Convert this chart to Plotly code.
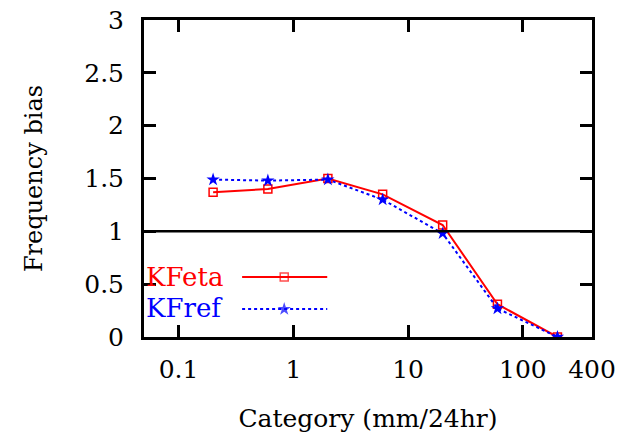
import numpy as np
import plotly.graph_objects as go

category = [0.2, 0.6, 2, 6, 20, 60, 200]
kfeta = [1.37, 1.40, 1.50, 1.35, 1.06, 0.31, 0.0]
kfref = [1.49, 1.48, 1.49, 1.30, 0.98, 0.27, 0.0]
x_tickvals = [0.1, 1, 10, 100, 400]
x_ticktext = ["0.1", "1", "10", "100", "400"]
y_tickvals = [0, 0.5, 1, 1.5, 2, 2.5, 3]
y_ticktext = ["0", "0.5", "1", "1.5", "2", "2.5", "3"]
ref_level = 1.0

FONT = "DejaVu Serif"
RED = "#ff0000"
BLUE = "#0000ff"

fig = go.Figure()
fig.add_trace(go.Scatter(x=category, y=kfeta, mode="lines+markers", name="KFeta",
                         line=dict(color=RED, width=2),
                         marker=dict(symbol="square-open", size=8, color=RED, line=dict(width=1.5, color=RED))))
fig.add_trace(go.Scatter(x=category, y=kfref, mode="lines+markers", name="KFref",
                         line=dict(color=BLUE, width=2, dash="dot"),
                         marker=dict(symbol="star", size=10, color=BLUE, line=dict(width=0))))

# legend samples (gnuplot style: text then line)
fig.add_trace(go.Scatter(x=[0.219, 0.313, 0.409], y=[0.189, 0.189, 0.189], xaxis="x2", yaxis="y2",
                         mode="lines+markers", showlegend=False, hoverinfo="skip",
                         line=dict(color=RED, width=2),
                         marker=dict(symbol="square-open", size=[0, 8, 0], color=RED, line=dict(width=1.5, color=RED))))
fig.add_trace(go.Scatter(x=[0.219, 0.313, 0.409], y=[0.088, 0.088, 0.088], xaxis="x2", yaxis="y2",
                         mode="lines+markers", showlegend=False, hoverinfo="skip",
                         line=dict(color=BLUE, width=2, dash="dot"),
                         marker=dict(symbol="star", size=[0, 10, 0], color=BLUE, line=dict(width=0))))

fig.add_shape(type="line", xref="paper", yref="y", x0=0, x1=1, y0=ref_level, y1=ref_level,
              line=dict(color="black", width=2.5))

fig.add_annotation(text="KFeta", xref="paper", yref="paper", x=0.0, y=0.189, xanchor="left", yanchor="middle",
                   showarrow=False, font=dict(family=FONT, size=26, color=RED))
fig.add_annotation(text="KFref", xref="paper", yref="paper", x=0.0, y=0.092, xanchor="left", yanchor="middle",
                   showarrow=False, font=dict(family=FONT, size=26, color=BLUE))

axis_common = dict(showgrid=False, zeroline=False, showline=True, linecolor="black", linewidth=3,
                   mirror="ticks", ticks="inside", ticklen=12, tickwidth=2.5, tickcolor="black",
                   automargin=False, tickfont=dict(family=FONT, size=25, color="black"))

fig.update_layout(
    width=620, height=435,
    margin=dict(l=144, r=28, t=20, b=98),
    paper_bgcolor="white", plot_bgcolor="white",
    showlegend=False,
    font=dict(family=FONT, color="black"),
    xaxis=dict(type="log", range=[np.log10(0.05), np.log10(400)],
               tickvals=x_tickvals, ticktext=x_ticktext, ticklabelstandoff=8,
               title=dict(text="Category (mm/24hr)", font=dict(family=FONT, size=25), standoff=27),
               **axis_common),
    yaxis=dict(range=[0, 3], tickvals=y_tickvals, ticktext=y_ticktext, ticklabelstandoff=12,
               title=dict(text="Frequency bias", font=dict(family=FONT, size=24), standoff=35),
               **axis_common),
    xaxis2=dict(overlaying="x", range=[0, 1], visible=False),
    yaxis2=dict(overlaying="y", range=[0, 1], visible=False),
)

fig.write_html("out.html")
